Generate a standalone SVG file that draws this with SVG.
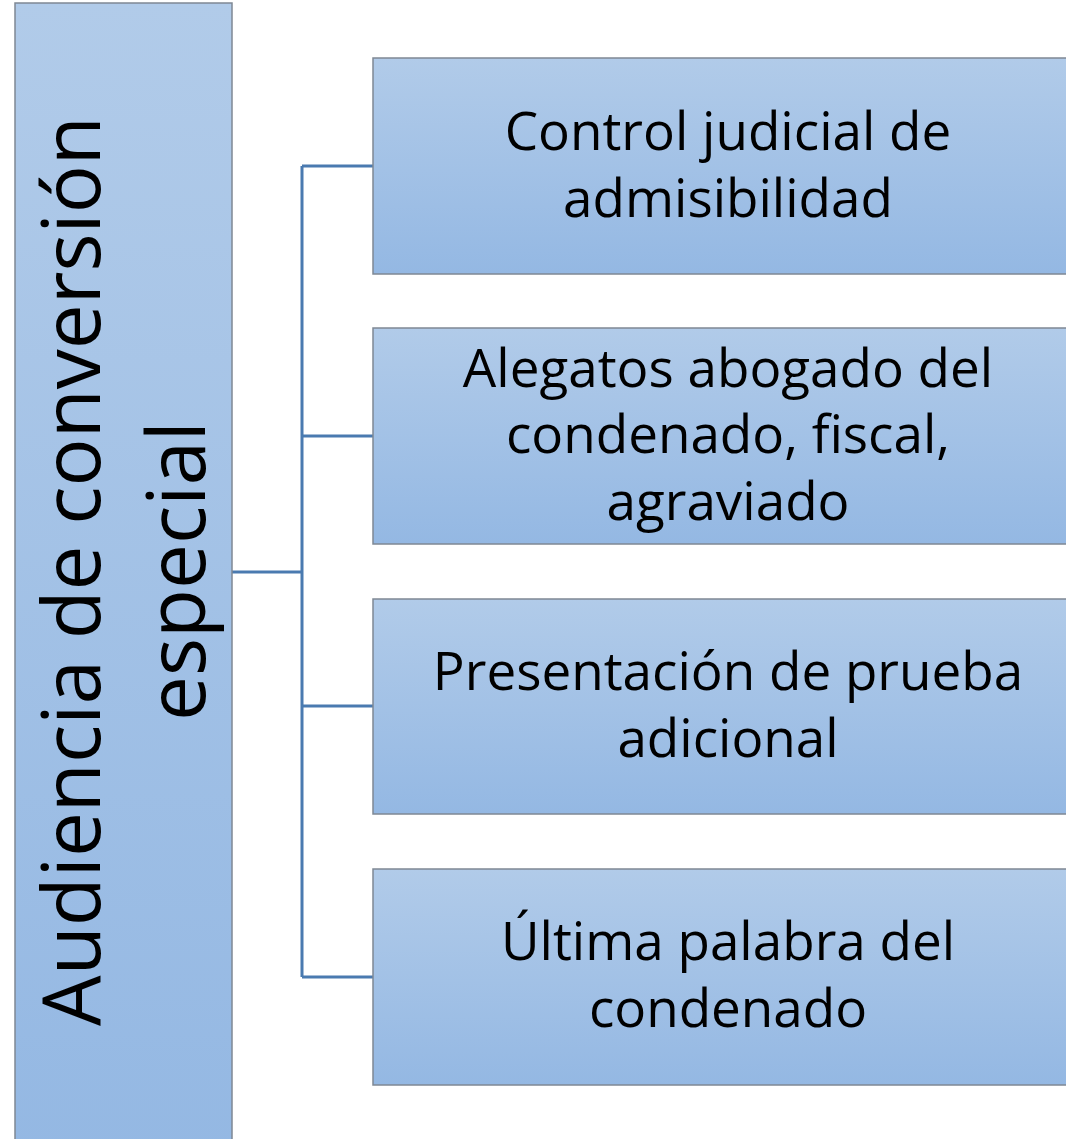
<svg xmlns="http://www.w3.org/2000/svg" width="1066" height="1139" viewBox="0 0 1066 1139">
<defs>
<linearGradient id="g" x1="0" y1="0" x2="0" y2="1">
<stop offset="0" stop-color="#b1cbe9"/>
<stop offset="1" stop-color="#94b8e3"/>
</linearGradient>
<style>
.box{fill:url(#g);stroke:#7f8894;stroke-width:1.5}
.t{font-family:"Open Sans","Liberation Sans",sans-serif;fill:#000;text-anchor:middle}
.s{font-size:53px}
.m{font-size:80px}
.c{fill:none;stroke:#4a7ab0;stroke-width:3}
</style>
</defs>
<g id="connectors">
<path class="c" d="M232 572H302M302 166V977M302 166H373M302 436H373M302 706H373M302 977H373"/>
</g>
<g id="main">
<rect class="box" x="15" y="3" width="217" height="1150"/>
<text class="t m" transform="translate(100 571) rotate(-90)" x="0" y="0">Audiencia de conversión</text>
<text class="t m" transform="translate(205 571) rotate(-90)" x="0" y="0">especial</text>
</g>
<g id="n1">
<rect class="box" x="373" y="58" width="710" height="216"/>
<text class="t s" x="728" y="150">Control judicial de</text>
<text class="t s" x="728" y="217">admisibilidad</text>
</g>
<g id="n2">
<rect class="box" x="373" y="328" width="710" height="216"/>
<text class="t s" x="728" y="387">Alegatos abogado del</text>
<text class="t s" x="728" y="453">condenado, fiscal,</text>
<text class="t s" x="728" y="520">agraviado</text>
</g>
<g id="n3">
<rect class="box" x="373" y="599" width="710" height="215"/>
<text class="t s" x="728" y="690">Presentación de prueba</text>
<text class="t s" x="728" y="757">adicional</text>
</g>
<g id="n4">
<rect class="box" x="373" y="869" width="710" height="216"/>
<text class="t s" x="728" y="960">Última palabra del</text>
<text class="t s" x="728" y="1027">condenado</text>
</g>
</svg>
